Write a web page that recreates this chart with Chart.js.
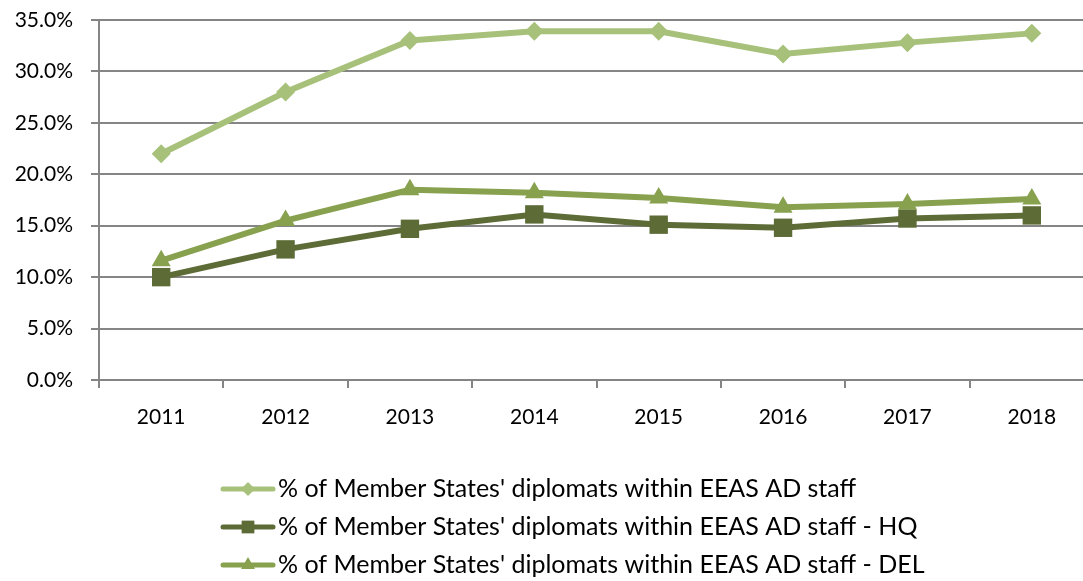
<!DOCTYPE html>
<html>
<head>
<meta charset="utf-8">
<script src="https://cdn.jsdelivr.net/npm/chart.js@4.4.1/dist/chart.umd.min.js"></script>
<style>
html, body { margin: 0; padding: 0; background: #fff; overflow: hidden; }
#wrap { width: 1083px; height: 581px; overflow: hidden; }
</style>
</head>
<body>
<div id="wrap"><canvas id="chart" width="1100" height="581"></canvas></div>
<script>
// Data (percentages)
const years = ['2011', '2012', '2013', '2014', '2015', '2016', '2017', '2018'];
const allStaff = [22.0, 28.0, 33.0, 33.9, 33.9, 31.7, 32.8, 33.7];
const hqStaff = [10.0, 12.7, 14.7, 16.1, 15.1, 14.8, 15.7, 16.0];
const delStaff = [11.6, 15.5, 18.5, 18.2, 17.7, 16.8, 17.1, 17.6];
const seriesNames = [
    "% of Member States' diplomats within EEAS AD staff",
    "% of Member States' diplomats within EEAS AD staff - HQ",
    "% of Member States' diplomats within EEAS AD staff - DEL"
];
const yTicks = [0, 5, 10, 15, 20, 25, 30, 35];

const fontName = 'Lato, "Open Sans", sans-serif';
const gridColor = '#858585';

// little line + marker picture for each legend entry
function legendIcon(color, style, radius) {
    const c = document.createElement('canvas');
    c.width = 56;
    c.height = 24;
    const ctx = c.getContext('2d');
    ctx.strokeStyle = color;
    ctx.lineWidth = 5;
    ctx.lineCap = 'round';
    ctx.beginPath();
    ctx.moveTo(3, 12);
    ctx.lineTo(53, 12);
    ctx.stroke();
    ctx.fillStyle = color;
    Chart.helpers.drawPoint(ctx, { pointStyle: style, radius: radius, rotation: 0, borderWidth: 0 }, 28, 12);
    return c;
}

const colors = ['#a7c17b', '#5d6b36', '#87a14f'];
const icons = [
    legendIcon(colors[0], 'rectRot', 7),
    legendIcon(colors[1], 'rect', 9),
    legendIcon(colors[2], 'triangle', 8)
];

// move the legend under the plot, left aligned like the original
const legendPlacer = {
    id: 'legendPlacer',
    afterLayout(chart) {
        chart.legend.left = 217.5;
        chart.legend.top = 463.5;
    }
};

const ctx = document.getElementById('chart').getContext('2d');
new Chart(ctx, {
    type: 'line',
    data: {
        labels: years,
        datasets: [
            {
                label: seriesNames[0],
                data: allStaff,
                borderColor: colors[0],
                backgroundColor: colors[0],
                borderWidth: 6,
                pointStyle: 'rectRot',
                pointRadius: 9.5,
                pointBorderWidth: 0,
                order: 2
            },
            {
                label: seriesNames[1],
                data: hqStaff,
                borderColor: colors[1],
                backgroundColor: colors[1],
                borderWidth: 6,
                pointStyle: 'rect',
                pointRadius: 13,
                pointBorderWidth: 0,
                order: 1
            },
            {
                label: seriesNames[2],
                data: delStaff,
                borderColor: colors[2],
                backgroundColor: colors[2],
                borderWidth: 6,
                pointStyle: 'triangle',
                pointRadius: 11,
                pointBorderWidth: 0,
                order: 0
            }
        ]
    },
    options: {
        responsive: false,
        animation: false,
        layout: { autoPadding: false, padding: { top: 20, right: 6, left: 0, bottom: 0 } },
        plugins: {
            tooltip: { enabled: false },
            legend: {
                position: 'bottom',
                align: 'start',
                labels: {
                    usePointStyle: true,
                    pointStyleWidth: 35,
                    boxHeight: 20,
                    padding: 13,
                    color: '#000',
                    font: { family: fontName, size: 25 },
                    generateLabels(chart) {
                        return chart.data.datasets.map((ds, i) => ({
                            text: ds.label,
                            pointStyle: icons[i],
                            fillStyle: colors[i],
                            strokeStyle: colors[i],
                            lineWidth: 0,
                            hidden: false,
                            datasetIndex: i
                        }));
                    }
                }
            }
        },
        scales: {
            x: {
                offset: true,
                grid: {
                    offset: true,
                    drawOnChartArea: false,
                    drawTicks: true,
                    tickLength: 8,
                    color: gridColor,
                    lineWidth: 2
                },
                border: { color: gridColor, width: 2 },
                ticks: {
                    color: '#000',
                    padding: 17,
                    maxRotation: 0,
                    font: { family: fontName, size: 21 }
                },
                afterFit(s) {
                    const lh = s.chart.legend ? s.chart.legend.height : 124;
                    s.height = s.chart.height - 380 - lh;
                }
            },
            y: {
                min: 0,
                max: 35,
                afterBuildTicks(s) {
                    s.ticks = yTicks.map(v => ({ value: v }));
                },
                grid: {
                    color: gridColor,
                    lineWidth: 2,
                    tickLength: 8
                },
                border: { color: gridColor, width: 2 },
                ticks: {
                    color: '#000',
                    padding: 18,
                    font: { family: fontName, size: 21 },
                    callback: v => v.toFixed(1) + '%'
                },
                afterFit(s) {
                    s.width = 99;
                    s.paddingTop = 12;
                    s.paddingBottom = 12;
                }
            }
        }
    },
    plugins: [legendPlacer]
});
</script>
</body>
</html>
